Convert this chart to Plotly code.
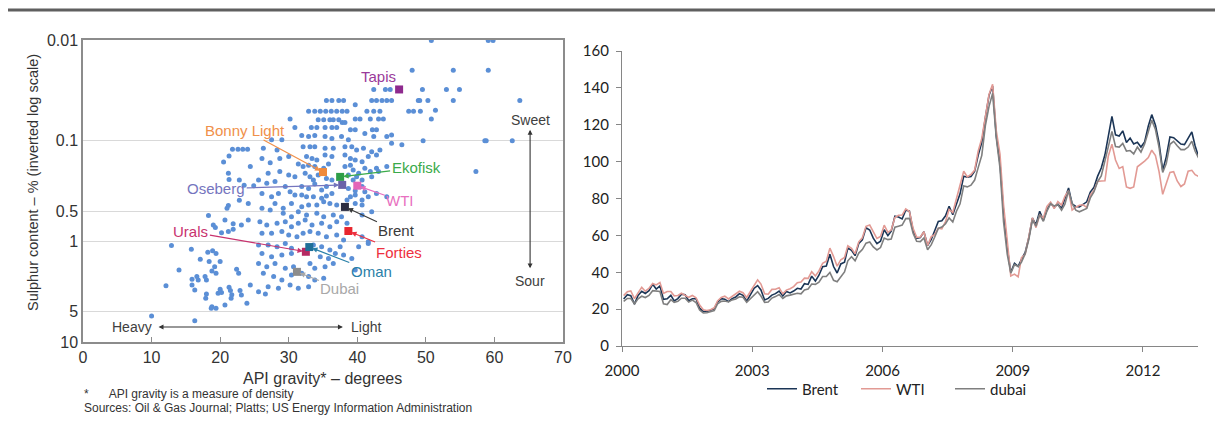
import numpy as np
import pandas as pd
import plotly.graph_objects as go

# ---------------- Left chart data: crude quality scatter ----------------
api_gravity = [
    21.8, 22.6, 23.3, 24.0, 21.3, 20.5, 24.4, 21.2, 21.3, 22.8, 23.5, 24.9, 24.1, 22.8, 21.2, 21.0,
    18.3, 20.7, 19.0, 19.3, 21.9, 23.1, 24.1, 20.2, 21.2, 21.9, 12.9, 15.8, 18.2, 18.9, 19.4, 17.1,
    18.4, 20.0, 19.2, 14.0, 18.8, 19.4, 22.4, 22.7, 16.6, 15.9, 16.8, 17.8, 18.0, 12.1, 15.9, 16.3,
    20.0, 20.2, 19.7, 21.3, 21.5, 21.7, 21.6, 22.9, 23.1, 24.4, 18.0, 17.9, 18.8, 18.7, 19.4, 20.7,
    23.9, 10.0, 16.3,
    48.0, 42.4, 44.1, 44.8, 48.9, 35.5, 36.3, 37.3, 38.0, 42.1, 42.8, 43.6, 44.3, 45.0, 39.7,
    32.9, 33.8, 34.6, 35.4, 36.2, 37.0, 37.8, 38.5, 41.4, 42.4, 43.3, 47.5, 48.2, 49.2,
    30.2, 34.3, 35.1, 36.0, 36.5, 37.3, 37.8, 38.2, 39.7, 40.4, 41.9, 43.1, 43.8,
    30.9, 33.3, 34.1, 35.3, 36.3, 37.0, 39.0, 39.7, 42.2, 42.8,
    31.9, 32.9, 33.8, 35.3, 36.3, 37.7, 38.7, 41.1, 42.4, 44.3, 45.0, 27.5, 29.0,
    26.3, 28.3, 32.1, 33.1, 33.8, 35.3, 36.5, 38.2, 39.2, 39.9, 40.9, 42.1, 43.3, 45.0, 46.5,
    26.1, 27.3, 28.7, 30.0, 32.6, 33.4, 34.1, 35.3, 36.3, 38.2, 39.0, 39.7, 40.7, 41.6, 42.8,
    31.4, 32.1, 32.9, 33.8, 35.1, 35.8, 38.2, 39.0, 39.4, 40.2, 41.1, 41.9, 42.8, 44.3,
    27.0, 28.7, 30.0, 30.9, 32.4, 33.1, 33.6, 34.3, 35.5, 36.3, 38.7, 39.4, 39.9, 40.7, 42.1, 43.1,
    25.6, 26.8, 28.0, 29.5, 31.9, 32.9, 33.8, 34.8, 35.5, 38.7, 39.7, 40.7, 41.1,
    26.1, 27.5, 28.5, 30.2, 30.9, 31.9, 32.6, 33.6, 34.8, 35.5, 36.3, 39.0, 39.7, 40.7, 41.6, 42.8, 44.3,
    28.0, 29.2, 30.4, 31.9, 32.9, 34.1, 35.1, 36.0, 37.0, 38.5, 39.7, 40.7,
    26.1, 27.3, 29.2, 30.4, 31.4, 32.6, 34.1, 35.1, 36.5, 37.7, 40.7, 42.1,
    25.8, 26.8, 28.3, 29.5, 30.4, 31.4, 32.4, 33.4, 34.8, 36.0, 37.0, 38.5,
    26.1, 27.5, 29.0, 30.0, 31.2, 32.1, 33.1, 34.3, 35.5, 37.0, 38.0, 40.7, 41.6,
    25.6, 27.0, 28.3, 29.5, 30.4, 33.6, 34.8, 36.0, 37.5, 40.2, 41.6,
    26.1, 27.5, 29.0, 30.4, 34.6, 35.8, 36.8, 38.0, 39.2,
    25.6, 26.8, 28.0, 29.5, 30.7, 33.1, 33.8, 35.3, 36.5, 39.7,
    26.3, 27.8, 29.0, 30.4, 31.9, 32.9, 33.8, 35.1,
    27.0, 28.5, 30.2, 31.4, 32.9, 25.6, 26.6,
    50.8, 59.1, 59.8, 54.0, 59.1, 49.5, 53.0, 54.9, 49.1, 50.3, 54.0, 63.7, 51.4, 50.8,
    49.6, 58.6, 58.8, 62.6, 57.3,
]
sulphur_pct = [
    0.122, 0.122, 0.122, 0.122, 0.142, 0.163, 0.181, 0.211, 0.243, 0.246, 0.278, 0.28, 0.42, 0.39, 0.44, 0.47,
    0.555, 0.614, 0.689, 0.73, 0.67, 0.69, 0.614, 0.82, 0.80, 0.76, 1.10, 1.20, 1.28, 1.24, 1.32, 1.51,
    1.59, 1.59, 1.79, 1.93, 1.97, 2.08, 1.89, 2.08, 2.24, 2.38, 2.42, 2.24, 2.42, 2.76, 2.72, 3.04,
    3.0, 3.23, 3.28, 2.86, 3.08, 3.40, 3.68, 3.08, 3.42, 2.72, 3.33, 3.68, 4.46, 4.62, 4.62, 4.28,
    4.13, 5.52, 6.14,
    0.020, 0.031, 0.031, 0.031, 0.040, 0.040, 0.040, 0.040, 0.040, 0.040, 0.040, 0.040, 0.040, 0.040, 0.044,
    0.051, 0.051, 0.051, 0.051, 0.051, 0.051, 0.051, 0.051, 0.051, 0.051, 0.051, 0.051, 0.051, 0.051,
    0.061, 0.062, 0.062, 0.062, 0.062, 0.062, 0.066, 0.066, 0.061, 0.061, 0.061, 0.061, 0.061,
    0.074, 0.074, 0.074, 0.074, 0.074, 0.074, 0.078, 0.078, 0.078, 0.078,
    0.089, 0.091, 0.089, 0.091, 0.095, 0.091, 0.098, 0.085, 0.091, 0.091, 0.088, 0.098, 0.098,
    0.119, 0.124, 0.115, 0.115, 0.115, 0.119, 0.119, 0.115, 0.115, 0.124, 0.119, 0.129, 0.124, 0.106, 0.11,
    0.150, 0.166, 0.150, 0.144, 0.144, 0.150, 0.156, 0.139, 0.144, 0.139, 0.150, 0.156, 0.162, 0.144, 0.139,
    0.171, 0.181, 0.175, 0.181, 0.188, 0.171, 0.181, 0.175, 0.196, 0.211, 0.188, 0.203, 0.188, 0.181,
    0.211, 0.203, 0.219, 0.228, 0.211, 0.228, 0.246, 0.219, 0.237, 0.246, 0.219, 0.246, 0.228, 0.246, 0.228, 0.203,
    0.246, 0.265, 0.255, 0.286, 0.286, 0.298, 0.27, 0.309, 0.286, 0.298, 0.315, 0.286, 0.321,
    0.334, 0.36, 0.334, 0.321, 0.347, 0.347, 0.36, 0.36, 0.374, 0.355, 0.334, 0.36, 0.347, 0.388, 0.36, 0.334, 0.36,
    0.42, 0.47, 0.42, 0.453, 0.436, 0.436, 0.404, 0.42, 0.436, 0.388, 0.42, 0.436,
    0.47, 0.489, 0.527, 0.569, 0.507, 0.547, 0.527, 0.569, 0.547, 0.569, 0.547, 0.507,
    0.638, 0.689, 0.662, 0.638, 0.715, 0.662, 0.614, 0.689, 0.662, 0.715, 0.638, 0.662,
    0.833, 0.833, 0.80, 0.865, 0.90, 0.833, 0.80, 0.833, 0.90, 0.865, 0.97, 0.90, 1.01,
    1.09, 1.09, 1.13, 1.05, 1.17, 1.09, 1.13, 1.22, 1.13, 1.13, 1.05,
    1.32, 1.42, 1.37, 1.32, 1.42, 1.48, 1.32, 1.37, 1.48,
    1.66, 1.79, 1.66, 1.85, 1.79, 1.66, 1.85, 1.79, 1.66, 1.93,
    2.08, 2.24, 2.42, 2.16, 2.08, 2.24, 2.42, 2.33,
    2.82, 2.93, 2.72, 2.93, 2.82, 3.16, 3.33,
    0.0101, 0.0101, 0.0101, 0.020, 0.020, 0.031, 0.031, 0.031, 0.040, 0.040, 0.040, 0.040, 0.050, 0.061,
    0.10, 0.10, 0.10, 0.10, 0.203,
]

crude_names = ["Tapis", "Bonny Light", "Ekofisk", "Oseberg", "WTI", "Brent", "Forties", "Urals", "Oman", "Dubai"]
crude_api = [46.1, 35.0, 37.5, 37.8, 40.0, 38.2, 38.7, 32.5, 33.0, 31.2]
crude_sulphur = [0.031, 0.205, 0.229, 0.275, 0.28, 0.455, 0.79, 1.27, 1.14, 2.01]
crude_marker_colors = ["#8E2A8E", "#F08A3A", "#2E9E48", "#6A62A8", "#E466B8", "#2B2D42", "#E8262E", "#B52A62", "#1F6F98", "#8C8C8C"]
crude_text_colors = ["#9A3A9A", "#F0904A", "#3AAA4A", "#7575BE", "#E870C0", "#3A3A3A", "#EE3040", "#C8326E", "#2A80A8", "#A8A8A8"]
label_offsets = [(-21, -13), (-78, -42), (76, -9), (-126, 4), (43, 15), (52, 24), (51, 21), (-115, -20), (62, 24), (43, 17)]

# ---------------- Right chart data: monthly oil prices (USD/bbl) ----------------
brent = [
    25.5, 27.8, 27.3, 22.7, 27.4, 29.7, 28.5, 30.0, 33.5, 30.9, 32.6, 25.3,
    25.6, 27.5, 24.5, 25.7, 28.1, 27.8, 24.6, 25.6, 25.6, 20.5, 18.8, 18.7,
    19.4, 20.3, 23.7, 25.7, 25.4, 24.1, 25.7, 26.6, 28.4, 27.5, 24.3, 28.0,
    31.2, 32.8, 30.4, 25.0, 25.8, 27.6, 28.4, 29.8, 27.1, 29.6, 28.8, 29.8,
    31.3, 30.9, 33.8, 33.4, 37.9, 35.2, 38.4, 43.0, 43.4, 49.8, 43.1, 39.6,
    44.5, 45.5, 53.1, 51.9, 49.0, 55.6, 57.6, 64.1, 62.9, 58.5, 55.5, 56.8,
    63.1, 59.9, 62.3, 70.4, 70.0, 68.9, 73.7, 73.2, 62.5, 58.4, 58.8, 62.0,
    54.5, 57.8, 62.1, 67.5, 67.9, 70.6, 75.8, 71.2, 77.0, 82.5, 92.1, 91.5,
    91.9, 94.8, 103.3, 110.4, 123.9, 136.0, 141.0, 113.9, 99.1, 72.8, 53.2, 40.0,
    44.9, 43.2, 47.0, 50.8, 58.6, 69.3, 65.8, 73.1, 68.2, 73.9, 77.5, 75.2,
    76.9, 74.7, 79.9, 85.7, 77.0, 75.7, 75.5, 77.1, 78.2, 83.5, 86.1, 92.0,
    96.5, 103.7, 114.6, 124.5, 114.5, 113.9, 116.7, 110.4, 112.8, 109.6, 110.5, 107.9,
    110.7, 119.3, 125.5, 119.8, 110.3, 95.2, 102.6, 113.4, 113.0, 111.5, 109.5, 109.2,
    112.3, 116.1, 108.5, 102.3,
]
wti = [
    27.3, 29.4, 29.9, 25.7, 28.8, 31.8, 29.7, 31.3, 33.9, 33.1, 34.4, 28.5,
    29.6, 29.6, 27.2, 27.4, 28.6, 27.6, 26.4, 27.4, 26.2, 22.2, 19.6, 19.3,
    19.7, 20.7, 24.4, 26.3, 27.0, 25.5, 26.9, 28.4, 29.7, 28.9, 26.3, 29.4,
    32.9, 35.9, 33.6, 28.3, 28.1, 30.7, 30.8, 31.6, 28.3, 30.3, 31.1, 32.2,
    34.3, 34.7, 36.8, 36.7, 40.3, 38.0, 40.7, 44.9, 46.0, 53.1, 48.5, 43.3,
    46.8, 48.0, 54.3, 53.0, 50.0, 56.5, 58.7, 64.9, 65.6, 62.4, 58.3, 59.4,
    65.5, 61.6, 62.9, 69.7, 70.9, 71.0, 74.4, 73.0, 63.8, 58.9, 59.1, 62.0,
    54.5, 59.3, 60.4, 63.9, 63.5, 67.5, 74.1, 72.4, 79.9, 85.8, 94.8, 91.7,
    93.0, 95.4, 105.5, 112.6, 125.4, 136.5, 142.0, 116.7, 104.1, 76.6, 57.3, 38.0,
    39.0, 37.5, 47.9, 49.7, 59.0, 69.6, 64.2, 71.1, 69.4, 75.7, 78.0, 74.5,
    78.3, 76.4, 81.2, 84.3, 73.7, 75.3, 76.3, 76.6, 75.2, 81.9, 84.3, 89.2,
    89.5, 89.6, 102.9, 109.5, 100.9, 96.3, 97.3, 86.3, 85.5, 86.3, 97.2, 98.6,
    100.3, 102.2, 106.2, 103.3, 94.7, 82.3, 87.9, 94.1, 94.5, 89.5, 86.5, 87.9,
    94.8, 95.3, 92.9, 92.0,
]
dubai = [
    24.2, 25.8, 25.8, 22.9, 25.6, 27.0, 26.3, 27.4, 30.0, 30.0, 29.6, 22.9,
    22.5, 25.1, 23.7, 24.2, 25.9, 25.9, 23.8, 24.9, 23.6, 19.5, 17.9, 18.0,
    18.7, 19.2, 22.8, 24.2, 24.4, 23.9, 25.0, 25.5, 26.7, 26.4, 23.7, 25.4,
    27.3, 29.4, 27.1, 23.7, 23.9, 26.0, 26.8, 27.9, 25.8, 27.2, 27.6, 28.0,
    28.6, 28.3, 30.4, 30.9, 33.6, 33.4, 34.6, 37.7, 37.7, 39.9, 35.6, 34.8,
    37.7, 40.2, 46.2, 48.4, 46.2, 50.4, 52.3, 55.8, 56.4, 53.7, 52.1, 53.4,
    58.6, 57.7, 58.0, 64.4, 65.0, 65.6, 69.1, 69.2, 61.1, 56.8, 56.6, 58.6,
    52.2, 55.0, 59.0, 63.8, 64.5, 66.3, 69.5, 67.3, 73.1, 77.1, 86.8, 86.3,
    87.2, 90.0, 96.6, 103.4, 119.5, 130.0, 137.0, 112.9, 96.6, 67.4, 49.8, 39.5,
    44.1, 43.1, 45.5, 50.0, 57.6, 68.4, 65.0, 71.3, 67.6, 73.2, 77.2, 76.0,
    76.7, 73.7, 76.9, 84.2, 77.4, 73.7, 72.8, 73.9, 74.6, 80.3, 83.7, 89.1,
    92.2, 100.4, 108.6, 116.4, 108.2, 107.9, 109.9, 105.7, 106.0, 104.2, 107.9, 105.2,
    109.6, 116.5, 122.5, 117.4, 107.9, 94.1, 99.0, 109.4, 111.0, 108.6, 106.5, 106.5,
    107.9, 111.1, 105.6, 101.7,
]
months = pd.date_range("2000-01-01", periods=len(brent), freq="MS") + pd.Timedelta(days=14)
year_ticks = ["2000", "2003", "2006", "2009", "2012"]

W, H = 1215, 425
def px_x(p):
    return p / W
def px_y(p):
    return 1 - p / H

fig = go.Figure()

fig.add_trace(go.Scatter(
    x=api_gravity, y=sulphur_pct, mode="markers",
    marker=dict(color="#5B8FD6", size=5),
    xaxis="x", yaxis="y", showlegend=False, hoverinfo="skip"))

fig.add_trace(go.Scatter(
    x=crude_api, y=crude_sulphur, mode="markers",
    marker=dict(color=crude_marker_colors, size=8, symbol="square"),
    xaxis="x", yaxis="y", showlegend=False, hoverinfo="skip"))

label_font = "Liberation Sans, Arial"
annotations = []
for name, a, s, tc, (ox, oy) in zip(crude_names, crude_api, crude_sulphur, crude_text_colors, label_offsets):
    if name == "Tapis":
        annotations.append(dict(x=a, y=np.log10(s), xref="x", yref="y", text=name, showarrow=False,
                                xshift=ox, yshift=-oy, font=dict(family=label_font, size=15, color=tc)))
    else:
        annotations.append(dict(x=a, y=np.log10(s), xref="x", yref="y", text=name, showarrow=True,
                                ax=ox, ay=oy, arrowcolor=tc, arrowhead=2, arrowsize=0.9, arrowwidth=1.2,
                                standoff=3, font=dict(family=label_font, size=15, color=tc)))

heavy_light_y = np.log10(7.1)
annotations.append(dict(x=37.9, y=heavy_light_y, ax=10.8, ay=heavy_light_y, xref="x", yref="y", axref="x", ayref="y",
                        text="", showarrow=True, arrowhead=2, arrowside="end+start", arrowsize=0.9,
                        arrowwidth=1.1, arrowcolor="#333333"))
annotations.append(dict(x=10.3, y=heavy_light_y, xref="x", yref="y", text="Heavy", showarrow=False, xanchor="right",
                        font=dict(family=label_font, size=14, color="#404040")))
annotations.append(dict(x=38.8, y=heavy_light_y, xref="x", yref="y", text="Light", showarrow=False, xanchor="left",
                        font=dict(family=label_font, size=14, color="#404040")))
annotations.append(dict(x=65.2, y=np.log10(0.078), ax=65.2, ay=np.log10(1.92), xref="x", yref="y", axref="x", ayref="y",
                        text="", showarrow=True, arrowhead=2, arrowside="end+start", arrowsize=0.9,
                        arrowwidth=1.1, arrowcolor="#333333"))
annotations.append(dict(x=65.2, y=np.log10(0.062), xref="x", yref="y", text="Sweet", showarrow=False,
                        font=dict(family=label_font, size=14, color="#404040")))
annotations.append(dict(x=65.2, y=np.log10(2.5), xref="x", yref="y", text="Sour", showarrow=False,
                        font=dict(family=label_font, size=14, color="#404040")))

annotations.append(dict(x=px_x(33), y=px_y(183), xref="paper", yref="paper", xanchor="center", yanchor="middle",
                        text="Sulphur content – % (inverted log scale)", textangle=-90, showarrow=False,
                        font=dict(family=label_font, size=14.5, color="#333333")))
annotations.append(dict(x=px_x(322), y=px_y(378), xref="paper", yref="paper", xanchor="center", yanchor="middle",
                        text="API gravity* – degrees", showarrow=False,
                        font=dict(family=label_font, size=16, color="#333333")))
annotations.append(dict(x=px_x(82), y=px_y(394), xref="paper", yref="paper", xanchor="left", yanchor="middle",
                        text="*&nbsp;&nbsp;&nbsp;&nbsp;&nbsp;&nbsp;API gravity is a measure of density",
                        showarrow=False, font=dict(family=label_font, size=12, color="#333333")))
annotations.append(dict(x=px_x(82), y=px_y(408), xref="paper", yref="paper", xanchor="left", yanchor="middle",
                        text="Sources: Oil &amp; Gas Journal; Platts; US Energy Information Administration",
                        showarrow=False, font=dict(family=label_font, size=12, color="#333333")))

fig.add_trace(go.Scatter(x=months, y=brent, mode="lines", name="Brent",
                         line=dict(color="#1B3556", width=1.6), xaxis="x2", yaxis="y2"))
fig.add_trace(go.Scatter(x=months, y=wti, mode="lines", name="WTI",
                         line=dict(color="#E29A94", width=1.6), xaxis="x2", yaxis="y2"))
fig.add_trace(go.Scatter(x=months, y=dubai, mode="lines", name="dubai",
                         line=dict(color="#7F7F7F", width=1.6), xaxis="x2", yaxis="y2"))

left_font = dict(family=label_font, size=16, color="#333333")
right_font = dict(family="Lato, Open Sans", size=15, color="#222222")

fig.update_layout(
    width=W, height=H,
    margin=dict(l=0, r=0, t=0, b=0),
    paper_bgcolor="white", plot_bgcolor="white",
    showlegend=True,
    legend=dict(orientation="h", x=px_x(762), y=px_y(389), xanchor="left", yanchor="middle",
                font=right_font, bgcolor="rgba(0,0,0,0)", entrywidth=49, entrywidthmode="pixels",
                tracegroupgap=0),
    annotations=annotations,
    shapes=[dict(type="line", xref="paper", yref="paper", x0=px_x(8), x1=1, y0=px_y(10), y1=px_y(10),
                 line=dict(color="#5F5F5F", width=3))],
    xaxis=dict(domain=[px_x(83), px_x(563)], range=[0, 70], tickvals=[0, 10, 20, 30, 40, 50, 60, 70],
               ticks="inside", ticklen=5, tickcolor="#8C8C8C", showline=True, mirror=True,
               linecolor="#8C8C8C", linewidth=1.5, showgrid=False, zeroline=False,
               tickfont=left_font, anchor="y", automargin=False),
    yaxis=dict(domain=[px_y(342), px_y(40)], type="log", range=[1, -2],
               tickvals=[0.01, 0.1, 0.5, 1, 5, 10], ticktext=["0.01", "0.1", "0.5", "1", "5", "10"],
               showgrid=True, gridcolor="#D9D9D9", gridwidth=1.2, showline=True, mirror=True,
               linecolor="#8C8C8C", linewidth=1.5, ticks="", zeroline=False,
               tickfont=left_font, anchor="x", automargin=False),
    xaxis2=dict(domain=[px_x(622), px_x(1198)], type="date", range=["2000-01-01", "2013-04-08"],
                tickvals=[f"{y}-01-01" for y in year_ticks], ticktext=year_ticks,
                ticks="outside", ticklen=5, tickcolor="#868686", showline=True, linecolor="#868686",
                linewidth=1.3, showgrid=False, zeroline=False, tickfont=right_font,
                anchor="y2", automargin=False, ticklabelstandoff=6),
    yaxis2=dict(domain=[px_y(346), px_y(51)], range=[0, 160], dtick=20,
                ticks="outside", ticklen=5, tickcolor="#868686", showline=True, linecolor="#868686",
                linewidth=1.3, showgrid=False, zeroline=False, tickfont=right_font,
                anchor="x2", automargin=False, ticklabelstandoff=4),
)

fig.write_html("out.html")
